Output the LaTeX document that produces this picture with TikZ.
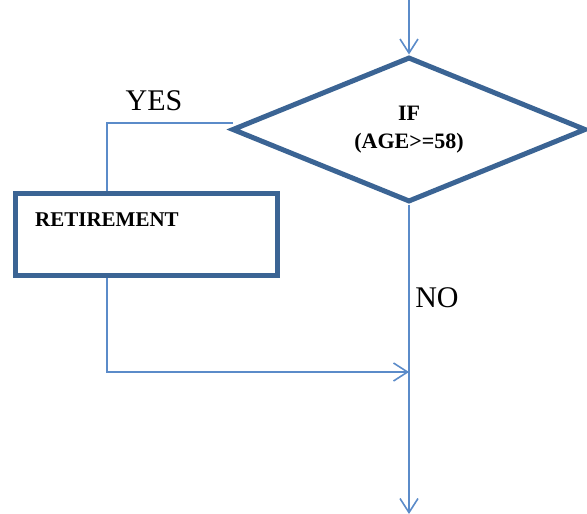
\documentclass[tikz,border=0pt]{standalone}
\usepackage{fontspec}
\setmainfont{Liberation Serif}
\usetikzlibrary{shapes.geometric,arrows.meta}
\definecolor{flowline}{HTML}{5B8BC9}
\definecolor{shapeedge}{HTML}{3B6494}
\tikzset{
  decision/.style={draw=shapeedge, line width=5pt, shape=diamond, shape aspect=2.5,
    inner sep=0pt, minimum width=354pt, minimum height=145pt, align=center,
    font=\fontsize{22}{28}\selectfont\bfseries},
  process/.style={draw=shapeedge, line width=5pt, rectangle, inner sep=0pt,
    minimum width=262pt, minimum height=82pt},
  flow/.style={draw=flowline, line width=1.6pt},
  flowarrow/.style={flow, -{Straight Barb[length=14pt,width=18pt,line width=1.6pt]}},
  branchlabel/.style={font=\fontsize{30}{31}\selectfont, inner sep=0pt},
  boxlabel/.style={font=\fontsize{21}{24}\selectfont\bfseries, inner sep=0pt}
}
\begin{document}
\begin{tikzpicture}[x=1pt,y=-1pt]
  \useasboundingbox (0,0) rectangle (587,514);
  % shapes
  \node[decision] (dec) at (409,129.5) {IF\\(AGE>=58)};
  \node[process] (ret) at (146,234) {};
  \node[boxlabel, anchor=west] (retlabel) at (35,220) {RETIREMENT};
  % labels on the branches
  \node[branchlabel] (yes) at (154,101) {YES};
  \node[branchlabel] (no) at (437,298) {NO};
  % free ends and bends
  \coordinate (entry) at (dec.north |- 0,0);
  \coordinate (yesstart) at (233,123);
  \coordinate (yescorner) at (107,123);
  \coordinate (merge) at (dec.south |- 0,372);
  \coordinate (retcorner) at (107,372);
  \coordinate (exit) at (dec.south |- 0,514);
  % connectors
  \draw[flowarrow] (entry) -- (dec.north);
  \draw[flow] (yesstart) -- (yescorner) -- (yescorner |- ret.north);
  \draw[flowarrow] (retcorner |- ret.south) -- (retcorner) -- (merge);
  \draw[flowarrow] (dec.south) -- (exit);
\end{tikzpicture}
\end{document}
